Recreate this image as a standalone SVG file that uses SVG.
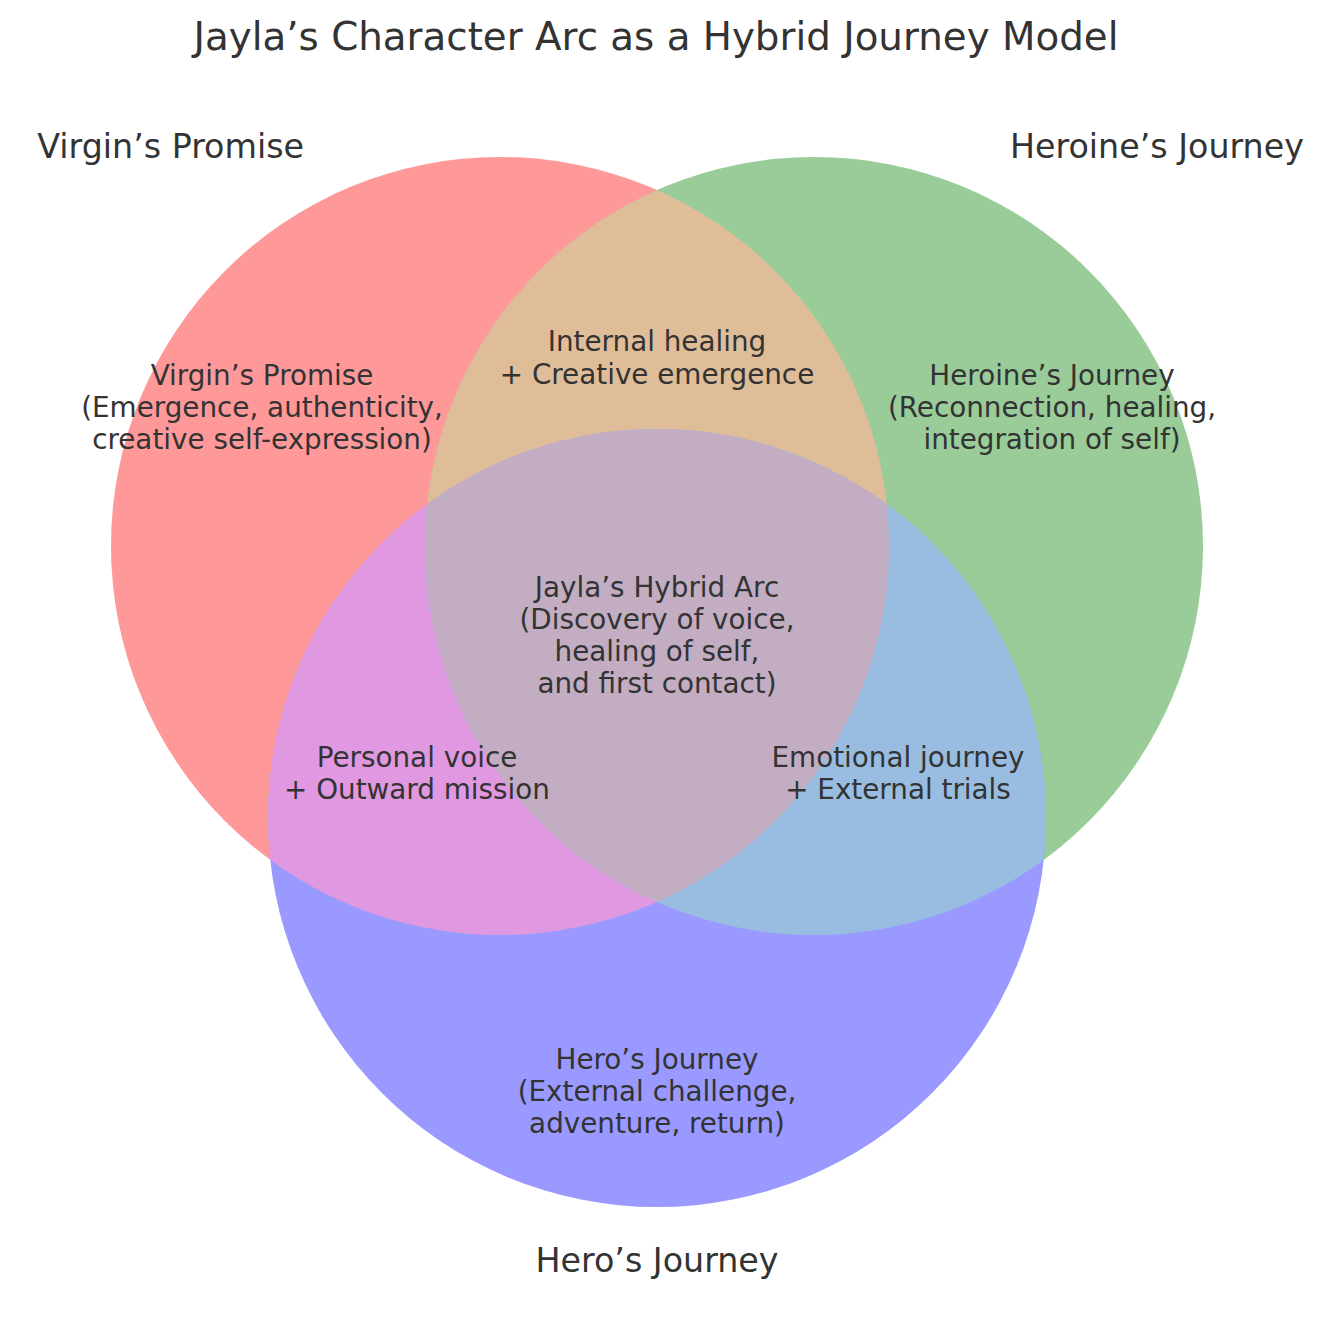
<svg xmlns="http://www.w3.org/2000/svg" width="1322" height="1318" viewBox="0 0 1322 1318">
  <style>
    text { font-family: "DejaVu Sans", sans-serif; fill: #333333; }
    .title { font-size: 38.8px; text-anchor: middle; }
    .set { font-size: 33.3px; }
    .sub { font-size: 27.8px; text-anchor: middle; }
  </style>
  <defs>
    <clipPath id="clipA"><circle cx="500" cy="546" r="389"/></clipPath>
    <clipPath id="clipB"><circle cx="814" cy="546" r="389"/></clipPath>
  </defs>
  <rect width="1322" height="1318" fill="#ffffff"/>
  <g id="regions">
    <circle id="setA" cx="500" cy="546" r="389" fill="#ff9999"/>
    <circle id="setB" cx="814" cy="546" r="389" fill="#99cc99"/>
    <circle id="setC" cx="657" cy="818" r="389" fill="#9999ff"/>
    <circle id="regionAB" cx="814" cy="546" r="389" fill="#e0bd99" clip-path="url(#clipA)"/>
    <circle id="regionAC" cx="657" cy="818" r="389" fill="#e099e0" clip-path="url(#clipA)"/>
    <circle id="regionBC" cx="657" cy="818" r="389" fill="#99bde0" clip-path="url(#clipB)"/>
    <g id="regionABC" clip-path="url(#clipA)">
      <circle cx="657" cy="818" r="389" fill="#c2adc2" clip-path="url(#clipB)"/>
    </g>
  </g>
  <g id="title">
    <text class="title" x="656" y="50">Jayla’s Character Arc as a Hybrid Journey Model</text>
  </g>
  <g id="set-labels">
    <text class="set" x="304" y="158" text-anchor="end">Virgin’s Promise</text>
    <text class="set" x="1010" y="158" text-anchor="start">Heroine’s Journey</text>
    <text class="set" x="657" y="1272" text-anchor="middle">Hero’s Journey</text>
  </g>
  <g id="label-A">
    <text class="sub" x="262" y="385">Virgin’s Promise</text>
    <text class="sub" x="262" y="417">(Emergence, authenticity,</text>
    <text class="sub" x="262" y="449">creative self-expression)</text>
  </g>
  <g id="label-B">
    <text class="sub" x="1052" y="385">Heroine’s Journey</text>
    <text class="sub" x="1052" y="417">(Reconnection, healing,</text>
    <text class="sub" x="1052" y="449">integration of self)</text>
  </g>
  <g id="label-AB">
    <text class="sub" x="657" y="351">Internal healing</text>
    <text class="sub" x="657" y="384">+ Creative emergence</text>
  </g>
  <g id="label-ABC">
    <text class="sub" x="657" y="597">Jayla’s Hybrid Arc</text>
    <text class="sub" x="657" y="629">(Discovery of voice,</text>
    <text class="sub" x="657" y="661">healing of self,</text>
    <text class="sub" x="657" y="693">and first contact)</text>
  </g>
  <g id="label-AC">
    <text class="sub" x="417" y="767">Personal voice</text>
    <text class="sub" x="417" y="799">+ Outward mission</text>
  </g>
  <g id="label-BC">
    <text class="sub" x="898" y="767">Emotional journey</text>
    <text class="sub" x="898" y="799">+ External trials</text>
  </g>
  <g id="label-C">
    <text class="sub" x="657" y="1069">Hero’s Journey</text>
    <text class="sub" x="657" y="1101">(External challenge,</text>
    <text class="sub" x="657" y="1133">adventure, return)</text>
  </g>
  <g id="connectors"/>
</svg>
